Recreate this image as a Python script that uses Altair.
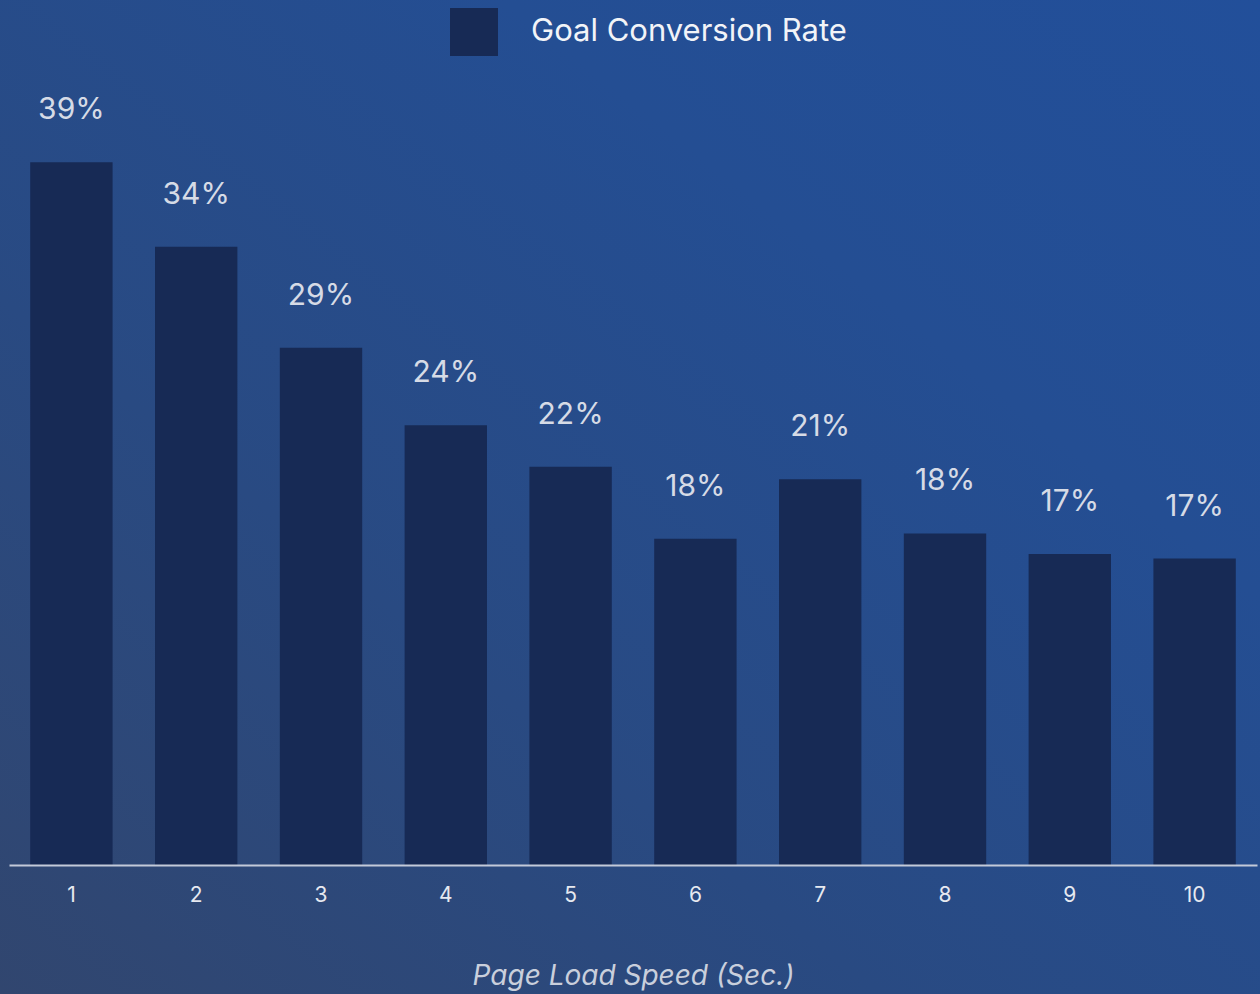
import altair as alt
import pandas as pd

# Page load speed (seconds) and goal conversion rate
speeds = [1, 2, 3, 4, 5, 6, 7, 8, 9, 10]
conversion = [0.390, 0.343, 0.287, 0.244, 0.221, 0.181, 0.214, 0.184, 0.1725, 0.170]
series_name = "Goal Conversion Rate"

df = pd.DataFrame({"speed": speeds, "rate": conversion, "series": series_name})

FONT = "Inter"
BAR = "#172a55"

# full-canvas gradient backdrop
backdrop = alt.Chart(alt.Data(values=[{}])).mark_rect(
    color=alt.LinearGradient(
        gradient="linear",
        stops=[
            alt.GradientStop(offset=0, color="#31466f"),
            alt.GradientStop(offset=0.35, color="#294a82"),
            alt.GradientStop(offset=0.7, color="#244e93"),
            alt.GradientStop(offset=1, color="#224f9a"),
        ],
        x1=0, y1=1, x2=1, y2=0,
    )
).encode(
    x=alt.value(-9), x2=alt.value(1251), y=alt.value(-54), y2=alt.value(940)
)

base = alt.Chart(df)

bars = base.mark_bar().encode(
    x=alt.X(
        "speed:O",
        scale=alt.Scale(paddingInner=0.34, paddingOuter=0.17),
        axis=alt.Axis(
            title="Page Load Speed (Sec.)",
            labelAngle=0,
            ticks=False,
            zindex=1,
            domainColor="#c3cad9",
            domainWidth=2,
            labelColor="#e6e9f0",
            labelFontSize=21,
            labelFont=FONT,
            labelPadding=19,
            titleFont=FONT,
            titleFontSize=28,
            titleFontStyle="italic",
            titleFontWeight="normal",
            titleColor="#c9cfdc",
            titlePadding=57,
        ),
    ),
    y=alt.Y("rate:Q", scale=alt.Scale(domain=[0, 0.45]), axis=None),
    color=alt.Color(
        "series:N",
        scale=alt.Scale(domain=[series_name], range=[BAR]),
        legend=alt.Legend(
            title=None,
            orient="none",
            legendX=441,
            legendY=-46,
            zindex=1,
            symbolType="square",
            symbolSize=2304,
            symbolStrokeWidth=0,
            symbolOpacity=1,
            labelFont=FONT,
            labelFontSize=31,
            labelColor="#f2f4f8",
            labelOffset=33,
            labelLimit=600,
            padding=0,
        ),
    ),
)

labels = base.mark_text(
    dy=-52, baseline="middle", fontSize=30, font=FONT, color="#d6dbe6"
).encode(
    x="speed:O",
    y="rate:Q",
    text=alt.Text("rate:Q", format=".0%"),
)

chart = alt.layer(backdrop, bars, labels).properties(
    width=1248,
    height=811,
    autosize=alt.AutoSizeParams(type="none"),
    padding={"left": 9, "top": 54, "right": 3, "bottom": 129},
    background="#2a4b86",
).configure_view(stroke=None)

chart.save("out.html", embed_options={"renderer": "svg", "actions": False})
